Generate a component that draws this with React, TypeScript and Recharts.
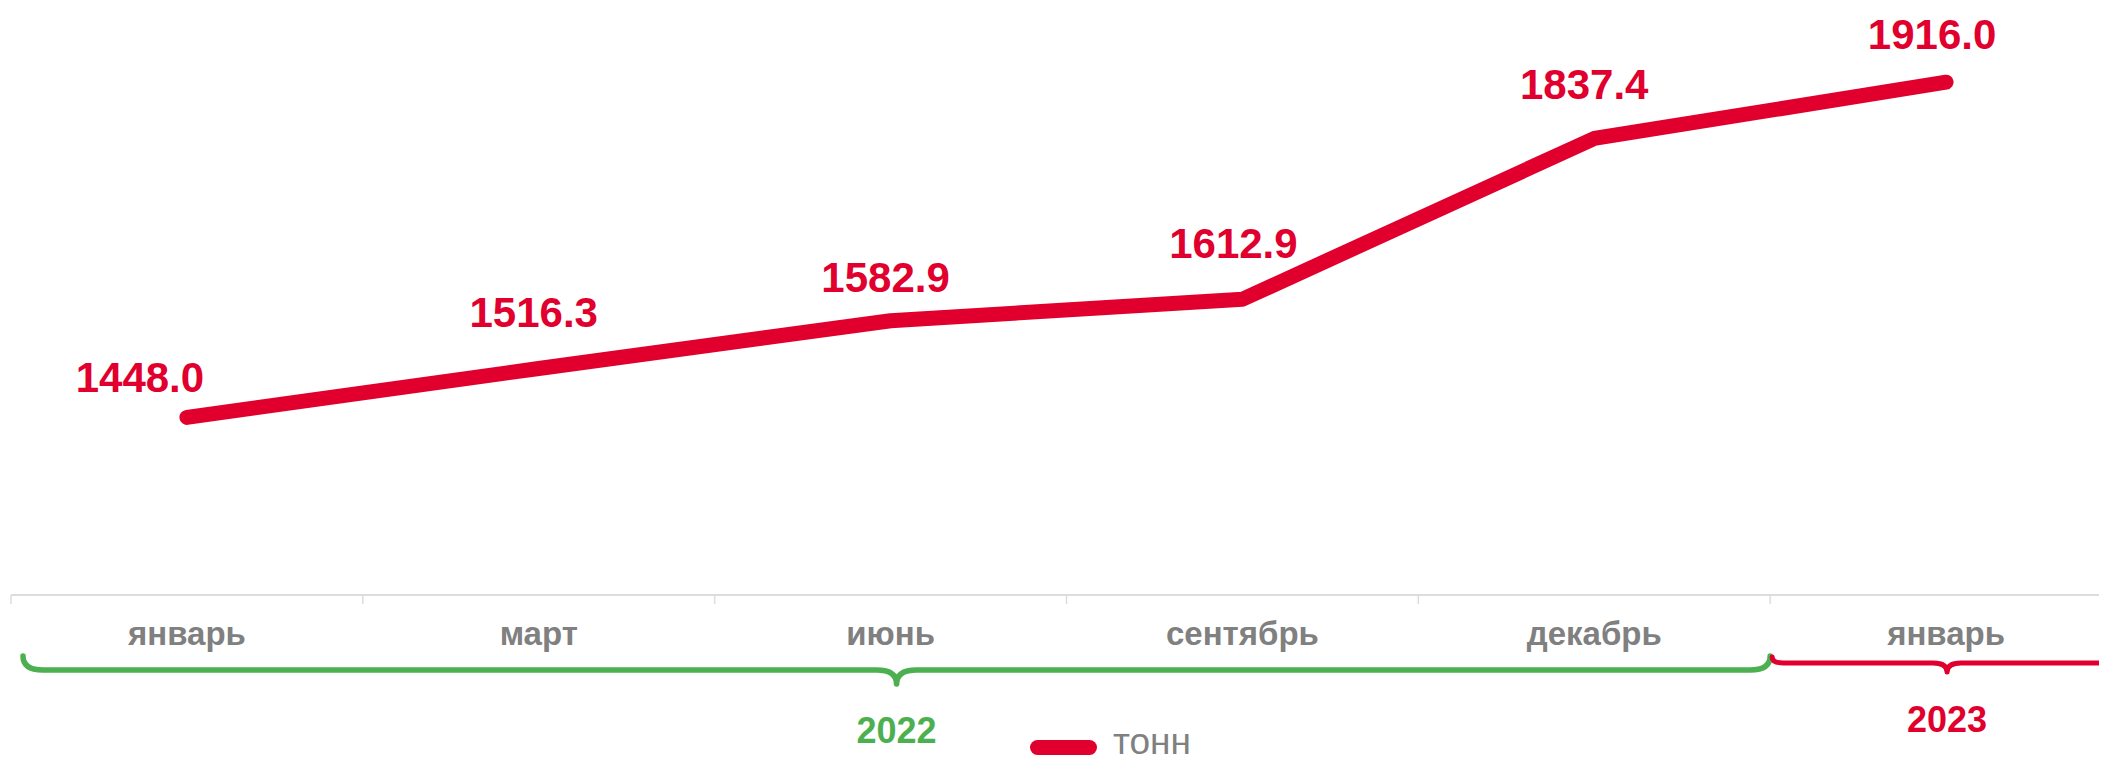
import React from 'react';
import { LineChart, Line, XAxis, YAxis, Legend } from 'recharts';

// ---- data ----
const MONTHS = ['январь', 'март', 'июнь', 'сентябрь', 'декабрь', 'январь'];
const YEARS = ['2022', '2022', '2022', '2022', '2022', '2023'];
const VALUES = [1448.0, 1516.3, 1582.9, 1612.9, 1837.4, 1916.0];
const SERIES_NAME = 'тонн';
const Y_DOMAIN: [number, number] = [1200, 2000];

const data = MONTHS.map((m, i) => ({ idx: i, month: m, year: YEARS[i], value: VALUES[i] }));
const TICKS = MONTHS.map((_, i) => i);

// ---- style / layout ----
const RED = '#E1002D';
const GREEN = '#4CAF50';
const GRAY = '#808080';
const AXIS_GRAY = '#dddddd';
const FONT = '"Liberation Sans", Arial, Helvetica, sans-serif';

const CHART_W = 2114;
const CHART_H = 757;
const MARGIN = { top: 14, right: 0, left: 3, bottom: 0 };
const X_AXIS_H = 170;
const PLOT_W = CHART_W - MARGIN.left - MARGIN.right;
const BAND = PLOT_W / MONTHS.length;

const GROUP_STYLE: Record<string, any> = {
  '2022': { color: GREEN, inset: 12, line: 75, rise: 14, r: 20, tipR: 20, tip: 14, label: 148, width: 5.5 },
  '2023': { color: RED, inset: 2, line: 68, rise: 6, r: 11, tipR: 14, tip: 9, label: 137, width: 5 },
};

// label nudges: [dx of label centre, gap from point to baseline]
const LABEL_NUDGE = [[-47, 25], [-5, 41], [-5, 29], [-9, 41], [-10, 39], [-14, 33]];

function MonthTick(props: any) {
  const { x, y, payload } = props;
  const i = payload.value as number;
  const left = x - BAND / 2;
  const parts: React.ReactNode[] = [];
  parts.push(
    <line key="t" x1={left} x2={left} y1={y} y2={y + 9} stroke={AXIS_GRAY} strokeWidth={1.5} />
  );
  parts.push(
    <text key="l" x={x} y={y + 50} textAnchor="middle" fontFamily={FONT} fontWeight="bold" fontSize={33} fill={GRAY}>
      {MONTHS[i]}
    </text>
  );
  const yr = YEARS[i];
  if (i === 0 || YEARS[i - 1] !== yr) {
    let n = 0;
    while (i + n < YEARS.length && YEARS[i + n] === yr) n++;
    const s = GROUP_STYLE[yr];
    const x1 = left + s.inset;
    const x2 = left + n * BAND;
    const mid = (x1 + x2) / 2;
    const ly = y + s.line;
    const ey = ly - s.rise;
    const ty = ly + s.tip;
    const d = `M ${x1} ${ey} Q ${x1} ${ly} ${x1 + s.r} ${ly} L ${mid - s.tipR} ${ly} Q ${mid} ${ly} ${mid} ${ty} Q ${mid} ${ly} ${mid + s.tipR} ${ly} L ${x2 - s.r} ${ly} Q ${x2} ${ly} ${x2} ${ey}`;
    parts.push(
      <path key="b" d={d} fill="none" stroke={s.color} strokeWidth={s.width} strokeLinecap="round" strokeLinejoin="round" />
    );
    parts.push(
      <text key="y" x={mid} y={y + s.label} textAnchor="middle" fontFamily={FONT} fontWeight="bold" fontSize={36} fill={s.color}>
        {yr}
      </text>
    );
  }
  return <g>{parts}</g>;
}

function ValueLabel(props: any) {
  const { x, y, value, index } = props;
  if (x == null || y == null) return null;
  const [dx, gap] = LABEL_NUDGE[index] || [-8, 36];
  return (
    <text x={x + dx} y={y - gap} textAnchor="middle" fontFamily={FONT} fontWeight="bold" fontSize={42} fill={RED}>
      {Number(value).toFixed(1)}
    </text>
  );
}

function LegendContent() {
  return (
    <div style={{ position: 'relative', width: 300, height: 30, fontFamily: FONT, overflow: 'visible' }}>
      <span style={{ position: 'absolute', left: 0, top: 10, width: 67, height: 15, borderRadius: 7.5, background: RED }} />
      <div style={{ position: 'absolute', left: 83, top: -3, height: 30, fontSize: 37, lineHeight: '30px', color: GRAY, whiteSpace: 'nowrap' }}>
        {SERIES_NAME}
      </div>
    </div>
  );
}

export default function App() {
  return (
    <div style={{ width: 2099, height: CHART_H, overflow: 'hidden', background: '#fff' }}>
      <style>{`html,body{overflow:hidden;background:#fff}`}</style>
      <LineChart width={CHART_W} height={CHART_H} data={data} margin={MARGIN}>
        <XAxis
          dataKey="idx"
          type="number"
          domain={[-0.5, MONTHS.length - 0.5]}
          ticks={TICKS}
          interval={0}
          height={X_AXIS_H}
          tickLine={false}
          tickSize={0}
          tickMargin={0}
          axisLine={{ stroke: AXIS_GRAY, strokeWidth: 2 }}
          tick={<MonthTick />}
        />
        <YAxis hide domain={Y_DOMAIN} type="number" />
        <Legend
          verticalAlign="middle"
          align="center"
          layout="horizontal"
          content={<LegendContent />}
          wrapperStyle={{ left: 1022, top: 722, width: 300, height: 30 }}
        />
        <Line
          type="linear"
          dataKey="value"
          name={SERIES_NAME}
          stroke={RED}
          strokeWidth={15}
          strokeLinecap="round"
          strokeLinejoin="round"
          dot={false}
          activeDot={false}
          isAnimationActive={false}
          label={<ValueLabel />}
        />
      </LineChart>
    </div>
  );
}
